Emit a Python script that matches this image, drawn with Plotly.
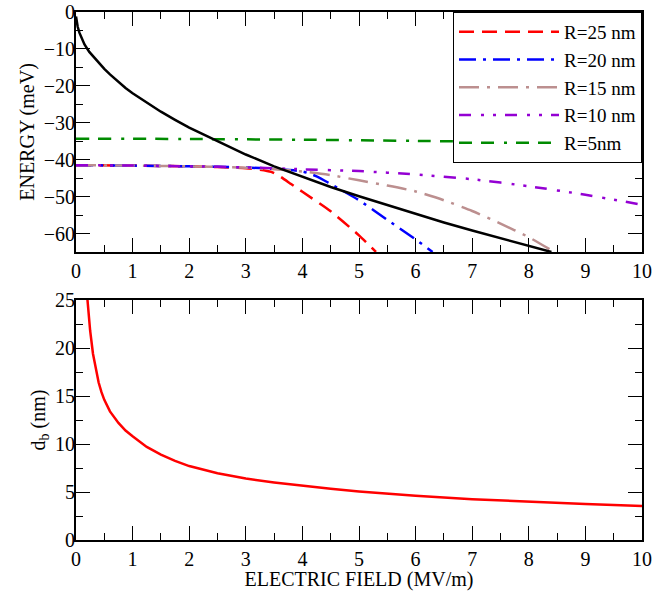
import plotly.graph_objects as go

# ---- data ----
field_black = [0, 0.01, 0.03, 0.06, 0.1, 0.15, 0.235, 0.35, 0.5, 0.6, 0.75, 0.875, 1, 1.25, 1.5, 1.75, 2, 2.5,
               3, 3.5, 4, 4.5, 5, 5.5, 6, 6.5, 7, 7.5, 8, 8.4]
energy_black = [-1.2, -2.4, -4.0, -5.6, -7.2, -8.8, -10.8, -12.9, -15.4, -16.9, -19.0, -20.6, -22.0, -24.6,
                -27.0, -29.2, -31.3, -35.0, -38.6, -41.8, -44.7, -47.4, -49.9, -52.3, -54.7, -57.0,
                -59.2, -61.3, -63.4, -65.0]

field_r25 = [0, 1, 2, 2.5, 3, 3.25, 3.45, 3.6, 3.8, 4, 4.5, 5, 5.3]
energy_r25 = [-41.5, -41.6, -41.8, -42.0, -42.3, -42.7, -43.3, -44.5, -46.6, -48.7, -54.0, -60.5, -65.0]

field_r20 = [0, 1, 2, 3, 3.5, 4, 4.25, 4.5, 5, 5.5, 6, 6.3]
energy_r20 = [-41.5, -41.6, -41.8, -42.1, -42.5, -43.2, -44.5, -46.6, -51.0, -56.3, -61.6, -65.0]

field_r15 = [0, 1, 2, 3, 3.5, 4, 4.5, 5, 5.5, 6, 6.5, 7, 7.5, 8, 8.45]
energy_r15 = [-41.5, -41.6, -41.8, -42.2, -42.6, -43.2, -44.2, -45.6, -47.0, -48.6, -51.0, -53.9, -57.3, -61.0, -65.0]

field_r10 = [0, 1, 2, 3, 4, 5, 6, 7, 8, 9, 10]
energy_r10 = [-41.5, -41.6, -41.8, -42.1, -42.6, -43.1, -44.0, -45.3, -47.2, -49.5, -52.2]

field_r5 = [0, 2, 4, 6, 8, 10]
energy_r5 = [-34.3, -34.4, -34.6, -34.9, -35.3, -35.9]

field_db = [0.2, 0.25, 0.3, 0.35, 0.4, 0.45, 0.5, 0.6, 0.75, 0.875, 1, 1.25, 1.5, 1.75, 2, 2.5, 3, 3.5, 4,
            4.5, 5, 6, 7, 8, 9, 10]
db_vals = [25.2, 21.8, 19.4, 17.7, 16.4, 15.4, 14.6, 13.4, 12.2, 11.4, 10.8, 9.7, 8.9, 8.25, 7.7, 6.95,
           6.4, 6.0, 5.65, 5.33, 5.05, 4.6, 4.25, 3.97, 3.74, 3.54]

labels = ["R=25 nm", "R=20 nm", "R=15 nm", "R=10 nm", "R=5nm"]
colors = ["#ff0000", "#0000ff", "#bc8f8f", "#9400d3", "#008b00"]
dashes = ["15px,8px", "17px,7px,3px,7px", "20px,8px,3px,8px",
          "12px,10px,3px,9px,3px,9px", "13px,9px,13px,10px,3px,9px"]

FONT = "Liberation Serif"
fnt = lambda size: dict(family=FONT, size=size, color="black")

fig = go.Figure()
series = [(field_r25, energy_r25), (field_r20, energy_r20), (field_r15, energy_r15),
          (field_r10, energy_r10), (field_r5, energy_r5)]
for (xs, ys), lab, col, dsh in zip(series, labels, colors, dashes):
    fig.add_trace(go.Scatter(x=xs, y=ys, mode="lines", name=lab,
                             line=dict(color=col, width=2.5, dash=dsh, shape="spline", smoothing=0.6),
                             xaxis="x", yaxis="y"))
fig.add_trace(go.Scatter(x=field_black, y=energy_black, mode="lines", showlegend=False,
                         line=dict(color="black", width=2.5),
                         xaxis="x", yaxis="y"))
fig.add_trace(go.Scatter(x=field_db, y=db_vals, mode="lines", showlegend=False,
                         line=dict(color="#ff0000", width=2.5),
                         xaxis="x2", yaxis="y2"))

axis_common = dict(showline=True, linecolor="black", linewidth=2, mirror="allticks",
                   ticks="inside", ticklen=14, tickwidth=1.3, tickcolor="black",
                   showgrid=False, zeroline=False, tickfont=fnt(20), automargin=False)

fig.update_layout(
    width=669, height=591,
    margin=dict(l=76, r=27, t=12, b=51),
    plot_bgcolor="white", paper_bgcolor="white",
    font=fnt(20),
    xaxis=dict(domain=[0, 1], range=[0, 10], dtick=1, anchor="y",
               minor=dict(ticks="inside", ticklen=7, dtick=0.5, tickwidth=1.3, tickcolor="black"),
               **axis_common),
    yaxis=dict(domain=[0.5455, 1], range=[-65, 0], dtick=10, anchor="x", ticklabelstandoff=-5,
               minor=dict(ticks="inside", ticklen=7, dtick=5, tickwidth=1.3, tickcolor="black"),
               title=dict(text="ENERGY (meV)", font=fnt(20), standoff=4),
               **axis_common),
    xaxis2=dict(domain=[0, 1], range=[0, 10], dtick=1, anchor="y2",
                minor=dict(ticks="inside", ticklen=7, dtick=0.5, tickwidth=1.3, tickcolor="black"),
                title=dict(text="ELECTRIC FIELD (MV/m)", font=fnt(20), standoff=6),
                **axis_common),
    yaxis2=dict(domain=[0, 0.4545], range=[0, 25], dtick=5, anchor="x2", ticklabelstandoff=-5,
                minor=dict(ticks="inside", ticklen=7, dtick=2.5, tickwidth=1.3, tickcolor="black"),
                title=dict(text="d<sub>b</sub> (nm)", font=fnt(20), standoff=4),
                **axis_common),
    legend=dict(x=1, y=1, xanchor="right", yanchor="top", bgcolor="white",
                bordercolor="black", borderwidth=1, itemwidth=100,
                font=fnt(19), tracegroupgap=0),
    showlegend=True,
)

fig.write_html("out.html")
